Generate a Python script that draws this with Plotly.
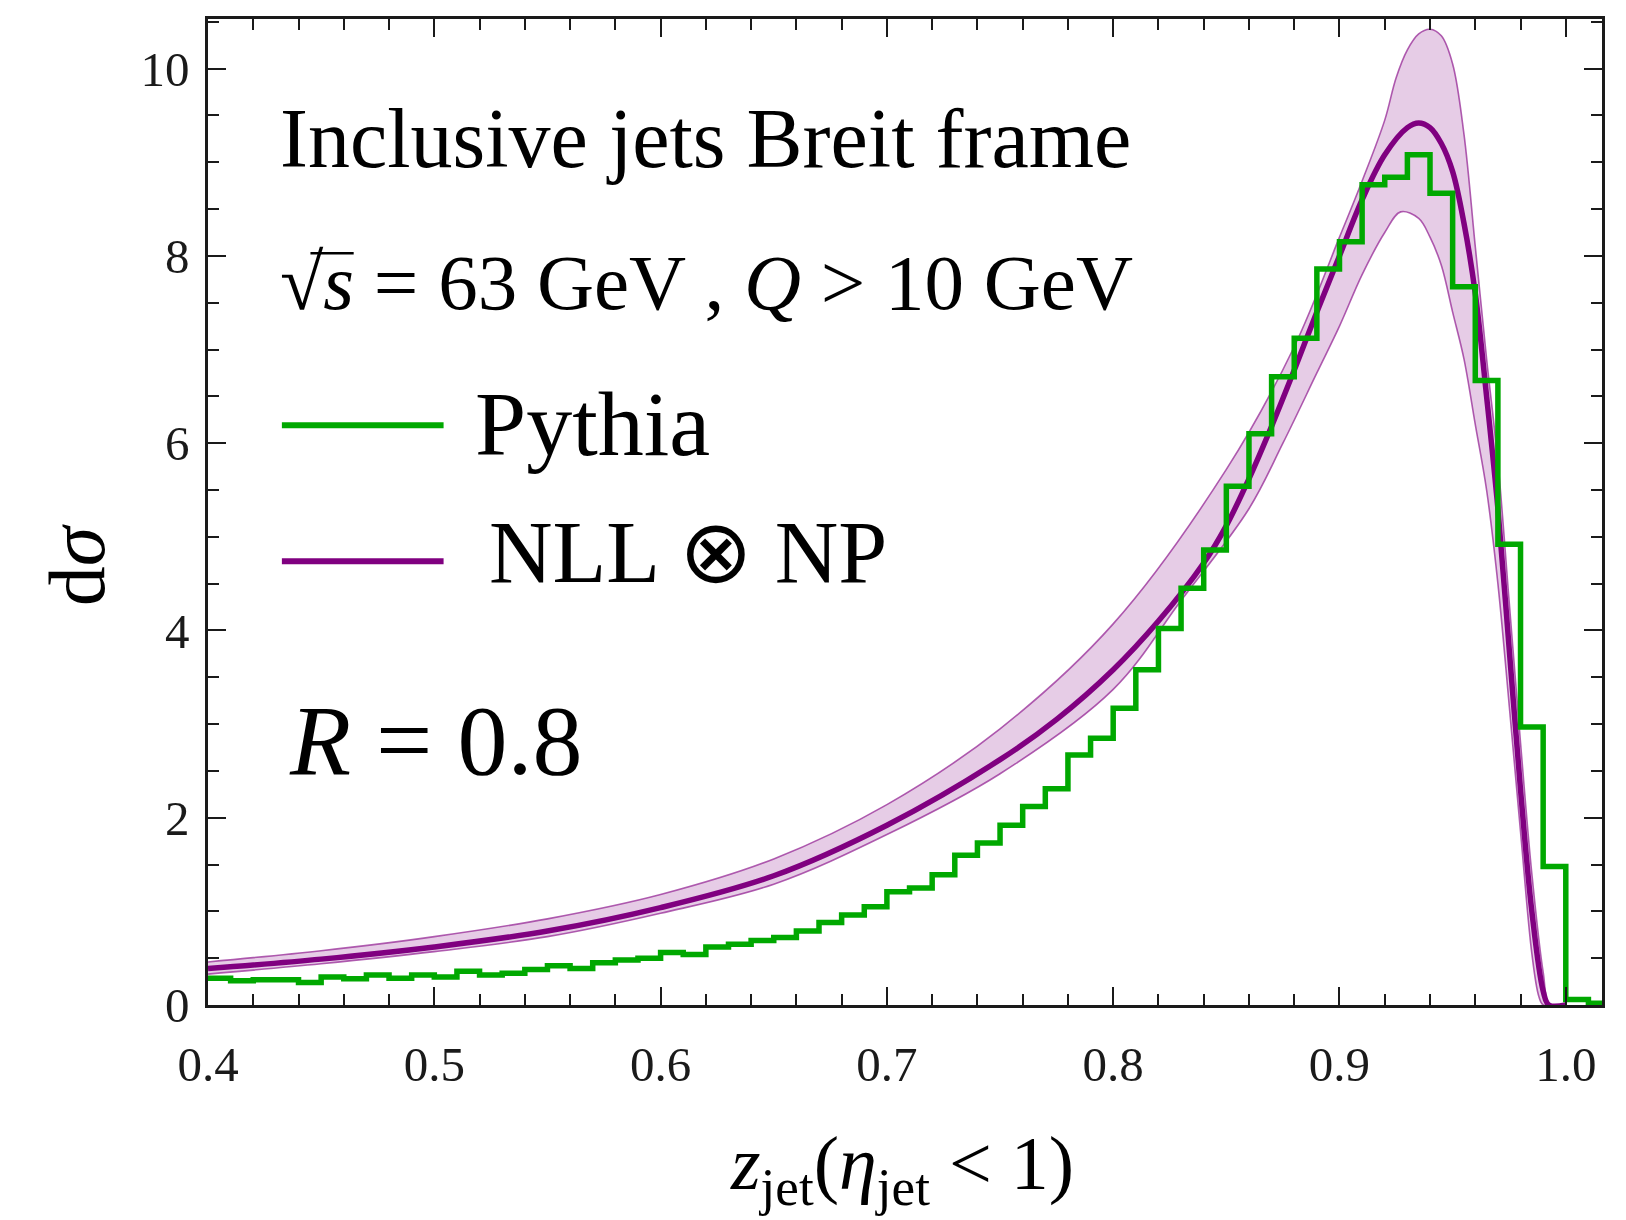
import plotly.graph_objects as go

# ---------------- data ----------------
# Pythia histogram: bins of width 0.01 starting at z = 0.40
bin_start = 0.40
bin_width = 0.01
pythia = [0.285, 0.26, 0.27, 0.27, 0.24, 0.30, 0.28, 0.32, 0.285, 0.32,
          0.30, 0.36, 0.32, 0.34, 0.38, 0.42, 0.39, 0.45, 0.48, 0.50,
          0.56, 0.54, 0.62, 0.65, 0.69, 0.72, 0.79, 0.88, 0.96, 1.05,
          1.21, 1.25, 1.39, 1.60, 1.73, 1.92, 2.12, 2.31, 2.67, 2.85,
          3.17, 3.58, 4.02, 4.45, 4.86, 5.54, 6.10, 6.71, 7.12, 7.86,
          8.15, 8.76, 8.84, 9.08, 8.67, 7.67, 6.67, 4.92, 2.97, 1.48,
          0.06, 0.02]

# NLL (x) NP central curve
nll_z = [0.40, 0.45, 0.50, 0.55, 0.60, 0.65, 0.70, 0.75, 0.775, 0.80, 0.82,
         0.84, 0.85, 0.86, 0.87, 0.88, 0.89, 0.90, 0.91, 0.92, 0.93, 0.935,
         0.94, 0.945, 0.95, 0.955, 0.96, 0.965, 0.97, 0.975, 0.98, 0.985,
         0.99, 0.9925, 1.0]
nll_y = [0.39, 0.49, 0.62, 0.79, 1.04, 1.38, 1.92, 2.62, 3.05, 3.58, 4.10,
         4.72, 5.12, 5.62, 6.18, 6.78, 7.40, 8.00, 8.60, 9.08, 9.37, 9.42,
         9.37, 9.20, 8.90, 8.35, 7.60, 6.50, 5.30, 3.80, 2.30, 1.00,
         0.15, 0.0, 0.0]

# uncertainty band: upper edge
up_z = [0.40, 0.45, 0.50, 0.55, 0.60, 0.65, 0.70, 0.75, 0.80, 0.85, 0.88,
        0.90, 0.91, 0.92, 0.925, 0.93, 0.935, 0.94, 0.945, 0.95, 0.955,
        0.96, 0.965, 0.97, 0.975, 0.98, 0.985, 0.99, 0.993, 1.0]
up_y = [0.46, 0.58, 0.73, 0.92, 1.18, 1.56, 2.14, 2.95, 4.07, 5.72, 7.03,
        8.20, 8.80, 9.45, 9.90, 10.20, 10.37, 10.42, 10.35, 10.05, 9.30,
        8.10, 6.90, 5.80, 4.30, 2.80, 1.40, 0.35, 0.0, 0.0]

# uncertainty band: lower edge
lo_z = [0.40, 0.45, 0.50, 0.55, 0.60, 0.65, 0.70, 0.75, 0.80, 0.83, 0.86,
        0.875, 0.89, 0.90, 0.91, 0.92, 0.927, 0.935, 0.94, 0.945, 0.95,
        0.955, 0.96, 0.965, 0.97, 0.975, 0.98, 0.985, 0.988, 0.99, 1.0]
lo_y = [0.33, 0.44, 0.57, 0.73, 0.98, 1.29, 1.82, 2.47, 3.37, 4.32, 5.30,
        6.00, 6.75, 7.25, 7.80, 8.25, 8.47, 8.40, 8.20, 7.90, 7.40,
        6.90, 6.20, 5.50, 4.50, 3.20, 1.85, 0.55, 0.10, 0.0, 0.0]

x_ticks = [0.4, 0.5, 0.6, 0.7, 0.8, 0.9, 1.0]
x_ticktext = ["0.4", "0.5", "0.6", "0.7", "0.8", "0.9", "1.0"]
y_ticks = [0, 2, 4, 6, 8, 10]
y_ticktext = ["0", "2", "4", "6", "8", "10"]

# ---------------- styling ----------------
GREEN = "#00a800"
PURPLE = "#800080"
BAND_FILL = "rgba(128,0,128,0.20)"
BAND_EDGE = "rgba(150,40,150,0.75)"
FONT = "Liberation Serif"
INK = "#1a1a1a"
SMOOTH = 1.0

fig = go.Figure()

# band fill
fig.add_trace(go.Scatter(
    x=up_z + lo_z[::-1], y=up_y + lo_y[::-1],
    mode="lines", fill="toself", fillcolor=BAND_FILL,
    line=dict(width=0, shape="spline", smoothing=SMOOTH),
    hoverinfo="skip", showlegend=False))
# band edges
for zz, yy in ((up_z, up_y), (lo_z, lo_y)):
    fig.add_trace(go.Scatter(
        x=zz, y=yy, mode="lines",
        line=dict(color=BAND_EDGE, width=1.6, shape="spline", smoothing=SMOOTH),
        hoverinfo="skip", showlegend=False))

# central NLL (x) NP
fig.add_trace(go.Scatter(
    x=nll_z, y=nll_y, mode="lines",
    line=dict(color=PURPLE, width=5.5, shape="spline", smoothing=SMOOTH),
    name="NLL ⊗ NP", showlegend=False))

# Pythia histogram
edges = [round(bin_start + bin_width * i, 4) for i in range(len(pythia) + 1)]
fig.add_trace(go.Scatter(
    x=edges, y=pythia + [pythia[-1]], mode="lines",
    line=dict(color=GREEN, width=5.5, shape="hv"),
    name="Pythia", showlegend=False))

axis_common = dict(
    showgrid=False, zeroline=False, showline=True, linecolor=INK, linewidth=2.5,
    mirror="allticks", ticks="inside", tickwidth=2, tickcolor=INK,
    tickfont=dict(family=FONT, size=49, color=INK),
)
fig.update_xaxes(
    range=[0.4, 1.016], tickvals=x_ticks, ticktext=x_ticktext, ticklen=18,
    minor=dict(dtick=0.02, tick0=0.4, ticks="inside", ticklen=11, tickwidth=2,
               tickcolor=INK, showgrid=False),
    ticklabelstandoff=14, **axis_common)
fig.update_yaxes(
    range=[0, 10.53], tickvals=y_ticks, ticktext=y_ticktext, ticklen=18,
    minor=dict(dtick=0.5, tick0=0, ticks="inside", ticklen=11, tickwidth=2,
               tickcolor=INK, showgrid=False),
    ticklabelstandoff=6, **axis_common)

# legend drawn by hand (long sample lines as in the reference)
fig.add_shape(type="line", xref="paper", yref="paper", x0=0.053, x1=0.169,
              y0=0.588, y1=0.588, line=dict(color=GREEN, width=6))
fig.add_shape(type="line", xref="paper", yref="paper", x0=0.053, x1=0.169,
              y0=0.450, y1=0.450, line=dict(color=PURPLE, width=6))
# vinculum of the square root sign
fig.add_shape(type="line", xref="paper", yref="paper", x0=0.0735, x1=0.1045,
              y0=0.7625, y1=0.7625, line=dict(color="#000", width=2.5))

def note(text, x, y, size, xanchor="left", yanchor="middle", angle=0):
    fig.add_annotation(text=text, xref="paper", yref="paper", x=x, y=y,
                       xanchor=xanchor, yanchor=yanchor, showarrow=False,
                       textangle=angle,
                       font=dict(family=FONT, size=size, color="#000"))

note("Inclusive jets Breit frame", 0.050, 0.879, 84)
note("√<i>s</i> = 63 GeV , <i>Q</i> &gt; 10 GeV", 0.050, 0.733, 79)
note("Pythia", 0.190, 0.589, 92)
note("NLL ⊗ NP", 0.200, 0.459, 88)
note("<i>R</i> = 0.8", 0.057, 0.268, 100)
note("<i>z</i><sub>jet</sub>(<i>η</i><sub>jet</sub> &lt; 1)", 0.498, -0.166, 76,
     xanchor="center")
note("d<i>σ</i>", -0.094, 0.446, 80, xanchor="center", angle=-90)

fig.update_layout(
    width=1626, height=1220,
    margin=dict(l=208, r=24, t=19, b=215),
    paper_bgcolor="white", plot_bgcolor="white",
    showlegend=False,
)

fig.write_html("out.html")
